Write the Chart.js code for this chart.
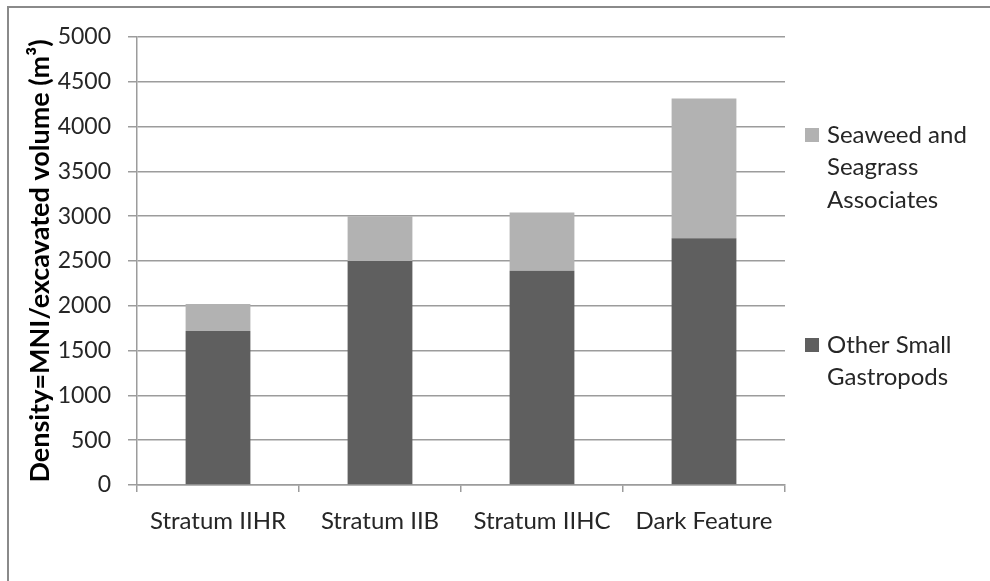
<!DOCTYPE html>
<html>
<head>
<meta charset="utf-8">
<script src="https://cdn.jsdelivr.net/npm/chart.js@4/dist/chart.umd.min.js"></script>
<style>
  html, body { margin: 0; padding: 0; background: #ffffff; }
  #wrap { width: 990px; height: 581px; position: relative; }
</style>
</head>
<body>
<div id="wrap"><canvas id="chart" width="990" height="581"></canvas></div>
<script>
// Sample units
const categories = ['Stratum IIHR', 'Stratum IIB', 'Stratum IIHC', 'Dark Feature'];

// Density (MNI per cubic metre of excavated volume), stacked
const otherSmallGastropods = [1720, 2500, 2390, 2755];
const seaweedSeagrassAssociates = [300, 500, 650, 1560];

const seriesNames = ['Other Small Gastropods', 'Seaweed and Seagrass Associates'];
const seriesColors = ['#5f5f5f', '#b2b2b2'];

// y-axis ticks
const yMin = 0;
const yMax = 5000;
const yStep = 500;
const yTitle = 'Density=MNI/excavated volume (m\u00B3)';

const FONT = 'Lato, "Open Sans", sans-serif';
const TEXT = '#262626';
const GRID = '#9c9c9c';

// Outer frame of the chart object
const framePlugin = {
  id: 'frame',
  beforeDraw(chart) {
    const ctx = chart.ctx;
    ctx.save();
    ctx.fillStyle = '#ffffff';
    ctx.fillRect(0, 0, chart.width, chart.height);
    ctx.strokeStyle = '#8a8a8a';
    ctx.lineWidth = 2;
    ctx.strokeRect(8, 7, chart.width + 20, chart.height + 20);
    ctx.restore();
  }
};

// Legend on the right with wrapped labels, top series listed first
const sideLegend = {
  id: 'sideLegend',
  afterDraw(chart) {
    const ctx = chart.ctx;
    const x = chart.chartArea.right + 20;
    const textX = x + 22;
    const maxW = chart.width - textX - 2;
    const lineH = 32.5;
    const firstLineY = [345, 135]; // per dataset index
    ctx.save();
    ctx.font = '24px ' + FONT;
    ctx.textBaseline = 'middle';
    ctx.fillStyle = TEXT;
    chart.data.datasets.forEach((ds, i) => {
      const words = ds.label.split(' ');
      const lines = [];
      let cur = '';
      words.forEach(w => {
        const t = cur ? cur + ' ' + w : w;
        if (ctx.measureText(t).width > maxW && cur) { lines.push(cur); cur = w; }
        else cur = t;
      });
      if (cur) lines.push(cur);
      const y0 = firstLineY[i];
      ctx.fillStyle = ds.backgroundColor;
      ctx.fillRect(x, y0 - 7, 14, 14);
      ctx.fillStyle = TEXT;
      lines.forEach((ln, k) => ctx.fillText(ln, textX, y0 + k * lineH));
    });
    ctx.restore();
  }
};

new Chart(document.getElementById('chart'), {
  type: 'bar',
  data: {
    labels: categories,
    datasets: [
      { label: seriesNames[0], data: otherSmallGastropods, backgroundColor: seriesColors[0] },
      { label: seriesNames[1], data: seaweedSeagrassAssociates, backgroundColor: seriesColors[1] }
    ]
  },
  options: {
    responsive: false,
    animation: false,
    devicePixelRatio: 1,
    layout: { padding: { left: 0, right: 205, top: 37, bottom: 0 } },
    datasets: { bar: { categoryPercentage: 1, barPercentage: 0.4 } },
    plugins: {
      legend: { display: false },
      tooltip: { enabled: false }
    },
    scales: {
      x: {
        stacked: true,
        grid: { display: true, drawOnChartArea: false, drawTicks: true, tickLength: 7, color: GRID, lineWidth: 1.5 },
        border: { display: true, color: GRID, width: 1.5 },
        ticks: { color: TEXT, font: { family: FONT, size: 24 }, padding: 15, maxRotation: 0 },
        afterFit(scale) { scale.height = 96; }
      },
      y: {
        stacked: true,
        min: yMin,
        max: yMax,
        grid: { color: GRID, lineWidth: 1.5, drawTicks: true, tickLength: 9 },
        border: { display: true, color: GRID, width: 1.5 },
        ticks: {
          stepSize: yStep,
          color: TEXT,
          font: { family: FONT, size: 23 },
          padding: 17,
          callback: (v) => String(v)
        },
        title: {
          display: true,
          text: yTitle,
          color: '#000000',
          font: { family: FONT, size: 27, weight: 'bold' },
          padding: { top: 24, bottom: 0 }
        },
        afterFit(scale) { scale.width = 137; }
      }
    }
  },
  plugins: [framePlugin, sideLegend]
});
</script>
</body>
</html>
